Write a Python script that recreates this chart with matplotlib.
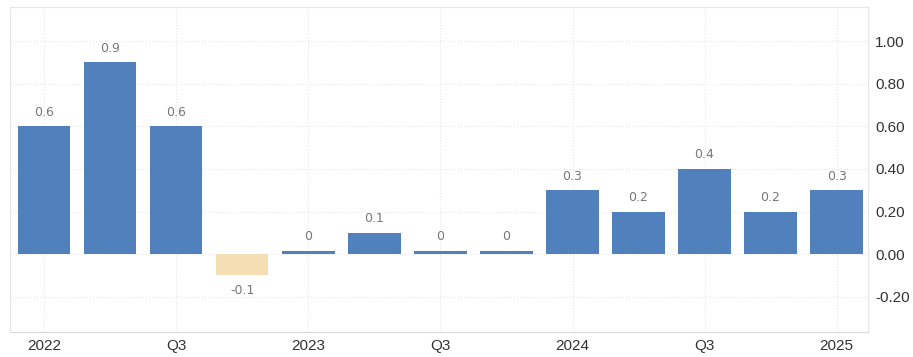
import matplotlib.pyplot as plt

# quarterly values (shown labels are rounded to one decimal)
values = [0.6, 0.9, 0.6, -0.1, 0.015, 0.1, 0.015, 0.015, 0.3, 0.2, 0.4, 0.2, 0.3]
tick_pos = [0, 2, 4, 6, 8, 10, 12]
tick_labels = ["2022", "Q3", "2023", "Q3", "2024", "Q3", "2025"]
y_ticks = [-0.2, 0.0, 0.2, 0.4, 0.6, 0.8, 1.0]

blue = "#5081bd"
neg = "#f5deb3"

fig = plt.figure(figsize=(9.13, 3.57), dpi=100)
ax = fig.add_axes([0.011, 0.070, 0.940, 0.910])

x = list(range(len(values)))
colors = [blue if v >= 0 else neg for v in values]
ax.bar(x, values, width=0.79, color=colors, zorder=3)

for xi, v in zip(x, values):
    lab = f"{round(v, 1):g}"
    if v >= 0:
        ax.annotate(lab, (xi, v), xytext=(0, 5.5), textcoords="offset points",
                    ha="center", va="bottom", fontsize=9, color="#777777")
    else:
        ax.annotate(lab, (xi, v), xytext=(0, -6), textcoords="offset points",
                    ha="center", va="top", fontsize=9, color="#777777")

ax.set_xlim(-0.52, 12.48)
ax.set_ylim(-0.366, 1.16)
ax.set_xticks(tick_pos)
ax.set_xticklabels(tick_labels, fontsize=11, color="#333333", family="Liberation Sans")
ax.set_yticks(y_ticks)
ax.set_yticklabels([f"{t:.2f}" for t in y_ticks], fontsize=11, color="#333333",
                   family="Liberation Sans")
ax.yaxis.tick_right()
ax.tick_params(length=0, pad=5)
ax.tick_params(axis="x", pad=5)

ax.grid(True, color="#e8e8e8", linestyle=":", linewidth=0.8, zorder=0)
for s in ax.spines.values():
    s.set_color("#e6e6e6")
    s.set_linewidth(0.8)
ax.spines["bottom"].set_color("#d9d9d9")

fig.savefig("out.png", dpi=100)
